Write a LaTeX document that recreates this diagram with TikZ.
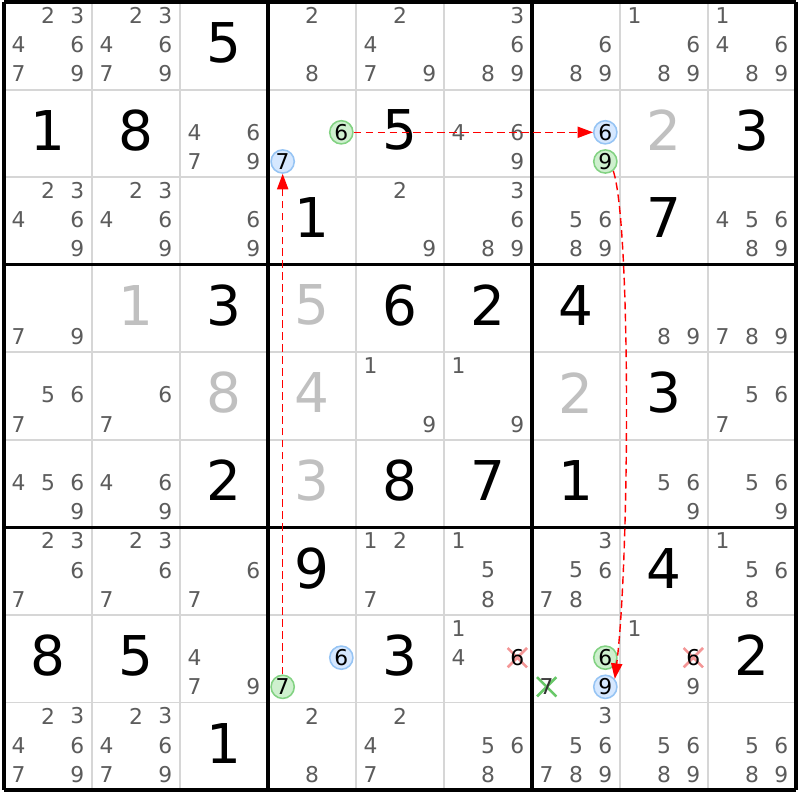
\documentclass[tikz,border=0pt]{standalone}
\usepackage{fontspec}
\setmainfont{DejaVu Sans}
\usepackage{tikz}
\definecolor{myk}{RGB}{92, 92, 92}
\definecolor{myl}{RGB}{192, 192, 192}
\definecolor{myg}{RGB}{214, 214, 214}
\definecolor{gfill}{RGB}{206, 240, 206}
\definecolor{gline}{RGB}{130, 210, 130}
\definecolor{bfill}{RGB}{214, 232, 255}
\definecolor{bline}{RGB}{150, 196, 244}
\definecolor{xred}{RGB}{244, 150, 150}
\definecolor{xgreen}{RGB}{104, 200, 104}
\usetikzlibrary{arrows.meta,shapes.misc}
\tikzset{
	cand/.style={
			text=myk,
			font=\fontsize{15.5pt}{15.5pt}\selectfont,
			inner sep=0pt,
			anchor=center
		},
	cpos/.style n args={3}{
			at={({#2-1+(2*mod(#3-1,3)+1)/6},{#1-1+(2*int((#3-1)/3)+1)/6-0.012})}
		}
}

\begin{document}
\begin{tikzpicture}[x=2.2cm,y=-2.189cm]
			\tikzset{
				big/.style={font=\fontsize{39pt}{39pt}\selectfont, inner sep=0pt},
				gcirc/.style={cand, circle, draw=gline, fill=gfill, line width=1.1pt, minimum size=0.58cm, text=black},
				bcirc/.style={cand, circle, draw=bline, fill=bfill, line width=1.1pt, minimum size=0.58cm, text=black},
				xcross/.style={cross out, draw=#1, line width=1.8pt, minimum size=0.42cm, inner sep=0pt},
				link/.style={red, line width=1pt, dash pattern=on 5.5pt off 3pt, -{Triangle[length=11pt,width=8pt]}}
			}
			\path[fill=white] (-0.04545,-0.02284) rectangle (9.04545,9.1138);
			\foreach \i in {1,...,8} \draw[myg, line width=1.4pt] (\i,0) -- (\i,9) (0,\i) -- (9,\i);
			\foreach \i in {0,3,6,9} \draw[black, line width=2.2pt] (\i,0) -- (\i,9) (0,\i) -- (9,\i);
			\foreach \r/\c/\d in {1/3/5, 2/1/1, 2/2/8, 2/5/5, 2/9/3, 3/4/1, 3/8/7, 4/3/3, 4/5/6, 4/6/2, 4/7/4,
				5/8/3, 6/3/2, 6/5/8, 6/6/7, 6/7/1, 7/4/9, 7/8/4, 8/1/8, 8/2/5, 8/5/3, 8/9/2, 9/3/1}
				\node[big] (v\r\c) at (\c-0.5,\r-0.535) {\d};
			\foreach \r/\c/\d in {2/8/2, 4/2/1, 4/4/5, 5/3/8, 5/4/4, 5/7/2, 6/4/3}
				\node[big, text=myl] (v\r\c) at (\c-0.5,\r-0.535) {\d};
			\foreach \r/\c/\l in {1/1/{2,3,4,6,7,9}, 1/2/{2,3,4,6,7,9}, 1/4/{2,8}, 1/5/{2,4,7,9}, 1/6/{3,6,8,9},
				1/7/{6,8,9}, 1/8/{1,6,8,9}, 1/9/{1,4,6,8,9}, 2/3/{4,6,7,9}, 2/6/{4,6,9},
				3/1/{2,3,4,6,9}, 3/2/{2,3,4,6,9}, 3/3/{6,9}, 3/5/{2,9}, 3/6/{3,6,8,9}, 3/7/{5,6,8,9}, 3/9/{4,5,6,8,9},
				4/1/{7,9}, 4/8/{8,9}, 4/9/{7,8,9}, 5/1/{5,6,7}, 5/2/{6,7}, 5/5/{1,9}, 5/6/{1,9}, 5/9/{5,6,7},
				6/1/{4,5,6,9}, 6/2/{4,6,9}, 6/8/{5,6,9}, 6/9/{5,6,9},
				7/1/{2,3,6,7}, 7/2/{2,3,6,7}, 7/3/{6,7}, 7/5/{1,2,7}, 7/6/{1,5,8}, 7/7/{3,5,6,7,8}, 7/9/{1,5,6,8},
				8/3/{4,7,9}, 8/6/{1,4}, 8/8/{1,9},
				9/1/{2,3,4,6,7,9}, 9/2/{2,3,4,6,7,9}, 9/4/{2,8}, 9/5/{2,4,7}, 9/6/{5,6,8},
				9/7/{3,5,6,7,8,9}, 9/8/{5,6,8,9}, 9/9/{5,6,8,9}}
				\foreach \d in \l \node[cand, cpos={\r}{\c}{\d}] (c\r\c\d) {\d};
			\node[xcross=xred, cpos={8}{6}{6}] (x866) {};
			\node[xcross=xred, cpos={8}{8}{6}] (x886) {};
			\node[xcross=xgreen, cpos={8}{7}{7}] (x877) {};
			\node[cand, text=black, cpos={8}{6}{6}] (c866) {6};
			\node[cand, text=black, cpos={8}{8}{6}] (c886) {6};
			\node[cand, text=black!80, cpos={8}{7}{7}] (c877) {7};
			\node[gcirc, cpos={2}{4}{6}] (r2c4-6) {6};
			\node[bcirc, cpos={2}{4}{7}] (r2c4-7) {7};
			\node[bcirc, cpos={2}{7}{6}] (r2c7-6) {6};
			\node[gcirc, cpos={2}{7}{9}] (r2c7-9) {9};
			\node[bcirc, cpos={8}{4}{6}] (r8c4-6) {6};
			\node[gcirc, cpos={8}{4}{7}] (r8c4-7) {7};
			\node[gcirc, cpos={8}{7}{6}] (r8c7-6) {6};
			\node[bcirc, cpos={8}{7}{9}] (r8c7-9) {9};
			\draw[link] (r8c4-7) -- (r2c4-7);
			\draw[link] (r2c4-6) -- (r2c7-6);
			\draw[link] (r2c7-9.-50) .. controls +(0.2,0.6) and +(0.17,-1.37) .. (r8c7-9.40);
		\end{tikzpicture}
\end{document}
